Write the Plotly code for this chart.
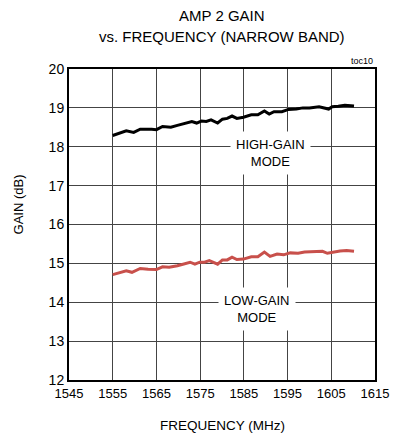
import plotly.graph_objects as go

freq_high = [1555.0, 1558.1, 1559.8, 1561.3, 1563.9, 1565.0, 1566.4, 1568.3, 1569.8, 1571.6,
             1573.1, 1574.2, 1575.3, 1576.4, 1577.5, 1579.0, 1580.1, 1581.2, 1582.3, 1583.4,
             1584.9, 1586.7, 1588.2, 1589.7, 1590.8, 1591.9, 1593.7, 1595.2, 1597.0, 1598.5,
             1600.0, 1602.2, 1603.3, 1604.4, 1605.2, 1606.6, 1608.1, 1610.2]
gain_high = [18.29, 18.41, 18.37, 18.45, 18.45, 18.44, 18.52, 18.50, 18.55, 18.61,
             18.65, 18.61, 18.66, 18.65, 18.69, 18.61, 18.71, 18.73, 18.79, 18.73,
             18.76, 18.82, 18.82, 18.92, 18.84, 18.90, 18.90, 18.96, 18.97, 19.00,
             19.00, 19.03, 19.00, 18.97, 19.03, 19.04, 19.07, 19.05]

freq_low = [1555.0, 1556.5, 1558.1, 1559.4, 1561.3, 1563.1, 1565.0, 1566.4, 1567.9, 1569.8,
            1571.2, 1572.7, 1573.8, 1574.9, 1576.0, 1577.1, 1579.0, 1580.1, 1581.2, 1582.3,
            1583.4, 1584.9, 1586.7, 1588.2, 1589.7, 1591.0, 1592.6, 1594.1, 1595.6, 1597.4,
            1598.9, 1600.4, 1602.2, 1603.0, 1604.1, 1605.2, 1607.0, 1608.5, 1610.2]
gain_low = [14.71, 14.75, 14.81, 14.77, 14.87, 14.85, 14.84, 14.91, 14.90, 14.94,
            14.98, 15.03, 14.98, 15.03, 15.03, 15.07, 14.98, 15.09, 15.09, 15.16,
            15.10, 15.11, 15.17, 15.17, 15.29, 15.18, 15.24, 15.22, 15.27, 15.26,
            15.29, 15.30, 15.31, 15.31, 15.26, 15.29, 15.32, 15.33, 15.31]

x_ticks = [1545, 1555, 1565, 1575, 1585, 1595, 1605, 1615]
y_ticks = [12, 13, 14, 15, 16, 17, 18, 19, 20]

FONT = "Liberation Sans, Arial, sans-serif"

fig = go.Figure()
fig.add_trace(go.Scatter(x=freq_high, y=gain_high, mode="lines",
                         line=dict(color="#000000", width=3), showlegend=False))
fig.add_trace(go.Scatter(x=freq_low, y=gain_low, mode="lines",
                         line=dict(color="#c8504b", width=3), showlegend=False))

fig.update_layout(
    width=401, height=438,
    margin=dict(l=69, r=17, t=69, b=58),
    paper_bgcolor="white", plot_bgcolor="white",
    font=dict(family=FONT, size=13, color="black"),
    xaxis=dict(range=[1545, 1615], tickvals=x_ticks, ticktext=[str(v) for v in x_ticks],
               showgrid=True, gridcolor="#444444", gridwidth=1, zeroline=False,
               showline=True, linecolor="black", linewidth=2, mirror=True, ticks="",
               tickfont=dict(size=13)),
    yaxis=dict(range=[12, 20], tickvals=y_ticks, ticktext=[str(v) for v in y_ticks],
               showgrid=True, gridcolor="#444444", gridwidth=1, zeroline=False,
               showline=True, linecolor="black", linewidth=2, mirror=True, ticks="",
               tickfont=dict(size=14)),
)

# titles
fig.add_annotation(x=0.5, xref="paper", y=1.1736, yref="paper", text="AMP 2 GAIN",
                   showarrow=False, font=dict(size=15), xanchor="center", yanchor="middle")
fig.add_annotation(x=0.5, xref="paper", y=1.106, yref="paper", text="vs. FREQUENCY (NARROW BAND)",
                   showarrow=False, font=dict(size=15), xanchor="center", yanchor="middle")
fig.add_annotation(x=0.5, xref="paper", y=-0.145, yref="paper", text="FREQUENCY (MHz)",
                   showarrow=False, font=dict(size=13.5), xanchor="center", yanchor="middle")
fig.add_annotation(x=-0.165, xref="paper", y=0.563, yref="paper", text="GAIN (dB)",
                   showarrow=False, font=dict(size=13), textangle=-90,
                   xanchor="center", yanchor="middle")

fig.add_annotation(x=1591.0, y=17.85, text="HIGH-GAIN<br>MODE", showarrow=False,
                   bgcolor="white", font=dict(size=13), borderpad=5)
fig.add_annotation(x=1588.0, y=13.82, text="LOW-GAIN<br>MODE", showarrow=False,
                   bgcolor="white", font=dict(size=13), borderpad=5)
fig.add_annotation(x=1, xref="paper", y=1, yref="paper", xanchor="right", yanchor="bottom",
                   text="toc10", showarrow=False, font=dict(size=9), yshift=1)

fig.write_html("out.html", config={"displayModeBar": False},
               post_script="document.body.style.margin='0px';")
